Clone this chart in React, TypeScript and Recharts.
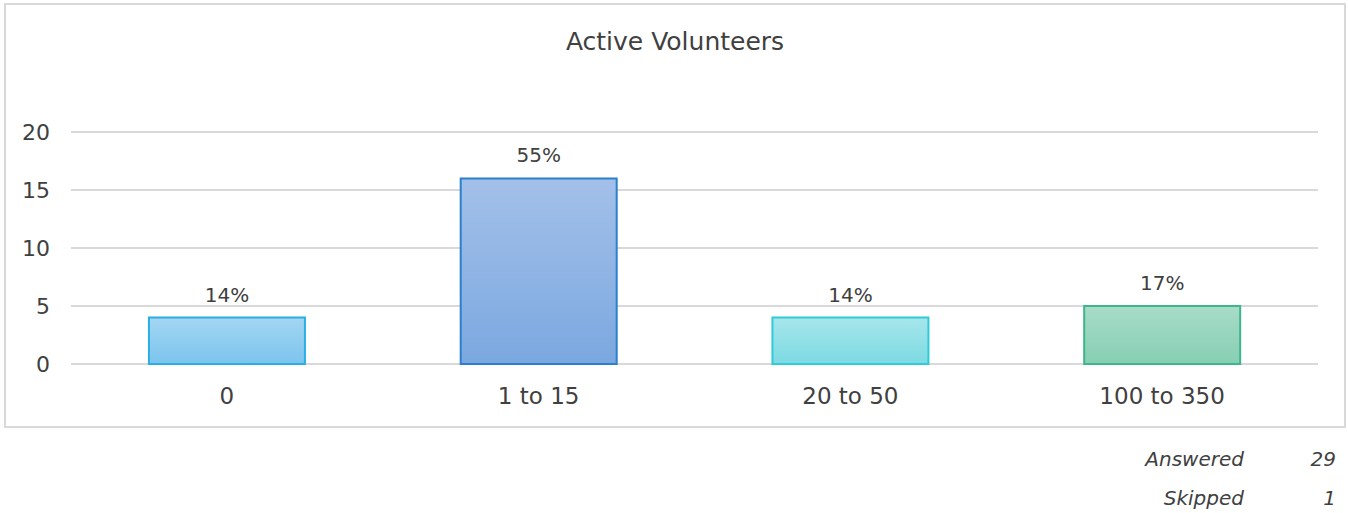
import { BarChart, Bar, XAxis, YAxis, CartesianGrid, Cell, LabelList } from 'recharts';

const categories = ['0', '1 to 15', '20 to 50', '100 to 350'];
const counts = [4, 16, 4, 5];
const percentLabels = ['14%', '55%', '14%', '17%'];
const yTicks = [0, 5, 10, 15, 20];

const topColors = ['#a3d6f2', '#a3c0e9', '#a6e6eb', '#a8dcc8'];
const bottomColors = ['#7cc4ee', '#7ba8e0', '#7ddae3', '#86cfb3'];
const strokeColors = ['#2aaee4', '#2b7fcb', '#2fcbd7', '#3fb58c'];

const data = categories.map((name, i) => ({ name, value: counts[i], label: percentLabels[i] }));

const FONT = '"DejaVu Sans", sans-serif';
const TEXT = '#404040';

export default function App() {
  return (
    <div style={{ position: 'absolute', left: 0, top: 0, width: 1348, height: 513, fontFamily: FONT, background: '#fff' }}>
      <div style={{ position: 'absolute', left: 0, top: 0 }}>
        <BarChart
          width={1348}
          height={430}
          data={data}
          margin={{ top: 132, right: 30, bottom: 36, left: 0 }}
          barCategoryGap="25%"
        >
          <defs>
            {categories.map((c, i) => (
              <linearGradient key={c} id={`grad${i}`} x1="0" y1="0" x2="0" y2="1">
                <stop offset="0%" stopColor={topColors[i]} />
                <stop offset="100%" stopColor={bottomColors[i]} />
              </linearGradient>
            ))}
          </defs>
          <CartesianGrid vertical={false} stroke="#d9d9d9" strokeWidth={2} />
          <XAxis
            dataKey="name"
            axisLine={false}
            tickLine={false}
            tickSize={0}
            tickMargin={24}
            tick={{ fontSize: 23, fill: TEXT, fontFamily: FONT }}
          />
          <YAxis
            width={71}
            domain={[0, 20]}
            ticks={yTicks}
            axisLine={false}
            tickLine={false}
            tickSize={0}
            tickMargin={21}
            tick={{ fontSize: 22, fill: TEXT, fontFamily: FONT }}
          />
          <Bar dataKey="value" isAnimationActive={false} strokeWidth={2}>
            {data.map((d, i) => (
              <Cell key={d.name} fill={`url(#grad${i})`} stroke={strokeColors[i]} />
            ))}
            <LabelList dataKey="label" position="top" offset={16} fill={TEXT} fontSize={20} fontFamily={FONT} />
          </Bar>
        </BarChart>
      </div>
      <div
        style={{
          position: 'absolute', left: 4, top: 3, width: 1338, height: 421,
          border: '2px solid #d9d9d9', pointerEvents: 'none',
        }}
      />
      <div
        style={{
          position: 'absolute', left: 4, top: 26, width: 1342, textAlign: 'center',
          fontSize: 25, lineHeight: '32px', color: TEXT,
        }}
      >
        Active Volunteers
      </div>
      <div style={{ position: 'absolute', top: 446, right: 12, fontSize: 20, fontStyle: 'italic', color: TEXT, lineHeight: '26px' }}>
        <div style={{ display: 'flex', justifyContent: 'flex-end' }}>
          <span>Answered</span>
          <span style={{ width: 92, textAlign: 'right' }}>29</span>
        </div>
        <div style={{ display: 'flex', justifyContent: 'flex-end', marginTop: 13 }}>
          <span>Skipped</span>
          <span style={{ width: 92, textAlign: 'right' }}>1</span>
        </div>
      </div>
    </div>
  );
}
